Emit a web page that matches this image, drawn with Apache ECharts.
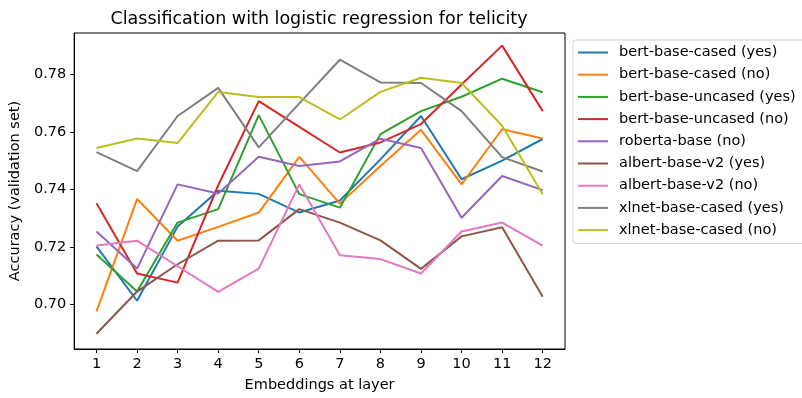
<!DOCTYPE html>
<html>
<head>
<meta charset="utf-8">
<script src="https://cdn.jsdelivr.net/npm/echarts@6/dist/echarts.min.js"></script>
<style>
html,body{margin:0;padding:0;background:#fff;}
#chart{width:802px;height:398px;}
</style>
</head>
<body>
<div id="chart"></div>
<script>
const layers = [1,2,3,4,5,6,7,8,9,10,11,12];
const yTicks = [0.70,0.72,0.74,0.76,0.78];
const seriesNames = [
  'bert-base-cased (yes)','bert-base-cased (no)','bert-base-uncased (yes)','bert-base-uncased (no)',
  'roberta-base (no)','albert-base-v2 (yes)','albert-base-v2 (no)','xlnet-base-cased (yes)','xlnet-base-cased (no)'
];
const bertCasedYes   = [0.7202,0.7013,0.7271,0.7396,0.7385,0.7320,0.7362,0.7505,0.7656,0.7436,0.7501,0.7576];
const bertCasedNo    = [0.6976,0.7367,0.7222,0.7270,0.7320,0.7514,0.7351,0.7482,0.7608,0.7418,0.7610,0.7578];
const bertUncasedYes = [0.7174,0.7045,0.7285,0.7332,0.7659,0.7384,0.7337,0.7593,0.7673,0.7723,0.7786,0.7739];
const bertUncasedNo  = [0.7352,0.7108,0.7076,0.7415,0.7708,0.7618,0.7529,0.7564,0.7628,0.7766,0.7901,0.7673];
const robertaNo      = [0.7254,0.7125,0.7418,0.7386,0.7514,0.7482,0.7498,0.7577,0.7545,0.7302,0.7447,0.7398];
const albertYes      = [0.6898,0.7045,0.7140,0.7222,0.7223,0.7332,0.7285,0.7223,0.7124,0.7237,0.7269,0.7027];
const albertNo       = [0.7205,0.7222,0.7133,0.7044,0.7125,0.7418,0.7171,0.7158,0.7108,0.7254,0.7285,0.7205];
const xlnetYes       = [0.7530,0.7464,0.7656,0.7754,0.7547,0.7700,0.7852,0.7773,0.7771,0.7673,0.7513,0.7463];
const xlnetNo        = [0.7545,0.7578,0.7562,0.7740,0.7722,0.7722,0.7644,0.7740,0.7789,0.7771,0.7622,0.7384];

const allValues = [bertCasedYes,bertCasedNo,bertUncasedYes,bertUncasedNo,robertaNo,albertYes,albertNo,xlnetYes,xlnetNo];
const colors = ['#1f77b4','#ff7f0e','#2ca02c','#d62728','#9467bd','#8c564b','#e377c2','#7f7f7f','#bcbd22'];
const FONT = 'DejaVu Sans';
const FS = 14.5;

const chart = echarts.init(document.getElementById('chart'), null, {renderer:'canvas'});
chart.setOption({
  animation:false,
  backgroundColor:'#fff',
  color: colors,
  title:{
    text:'Classification with logistic regression for telicity',
    left:314, top:5, textAlign:'center',
    textStyle:{fontFamily:FONT, fontSize:17.5, fontWeight:'normal', color:'#000'}
  },
  grid:{left:73, right:237, top:33, bottom:46, show:true, borderColor:'#000', borderWidth:1, backgroundColor:'#fff'},
  legend:{
    orient:'vertical', left:573, top:40,
    icon:'rect', itemWidth:30, itemHeight:2,
    itemGap:5.2,
    padding:[4,40,5,5],
    backgroundColor:'#fff', borderColor:'#d0d0d0', borderWidth:1, borderRadius:3,
    textStyle:{fontFamily:FONT, fontSize:FS, color:'#000', lineHeight:17, padding:[0,0,0,6]},
    data: seriesNames
  },
  xAxis:{
    type:'value', min:0.45, max:12.55,
    name:'Embeddings at layer', nameLocation:'middle', nameGap:29,
    nameTextStyle:{fontFamily:FONT, fontSize:FS, color:'#000'},
    axisLine:{show:true, lineStyle:{color:'#000', width:1}},
    axisTick:{show:true, inside:false, length:4, lineStyle:{color:'#000'}, customValues: layers},
    axisLabel:{fontFamily:FONT, fontSize:FS, color:'#000', margin:8, customValues: layers},
    splitLine:{show:false}
  },
  yAxis:{
    type:'value', min:0.6845, max:0.7945,
    name:'Accuracy (validation set)', nameLocation:'middle', nameGap:48,
    nameTextStyle:{fontFamily:FONT, fontSize:FS, color:'#000'},
    axisLine:{show:true, lineStyle:{color:'#000', width:1}},
    axisTick:{show:true, inside:false, length:4, lineStyle:{color:'#000'}, customValues: yTicks},
    axisLabel:{fontFamily:FONT, fontSize:FS, color:'#000', margin:8, customValues: yTicks,
      formatter: v => v.toFixed(2)},
    splitLine:{show:false}
  },
  series: seriesNames.map((n,i)=>({
    name:n, type:'line', showSymbol:false, symbol:'none',
    lineStyle:{width:2, color:colors[i]},
    itemStyle:{color:colors[i]},
    data: layers.map((l,j)=>[l, allValues[i][j]])
  }))
});
</script>
</body>
</html>
